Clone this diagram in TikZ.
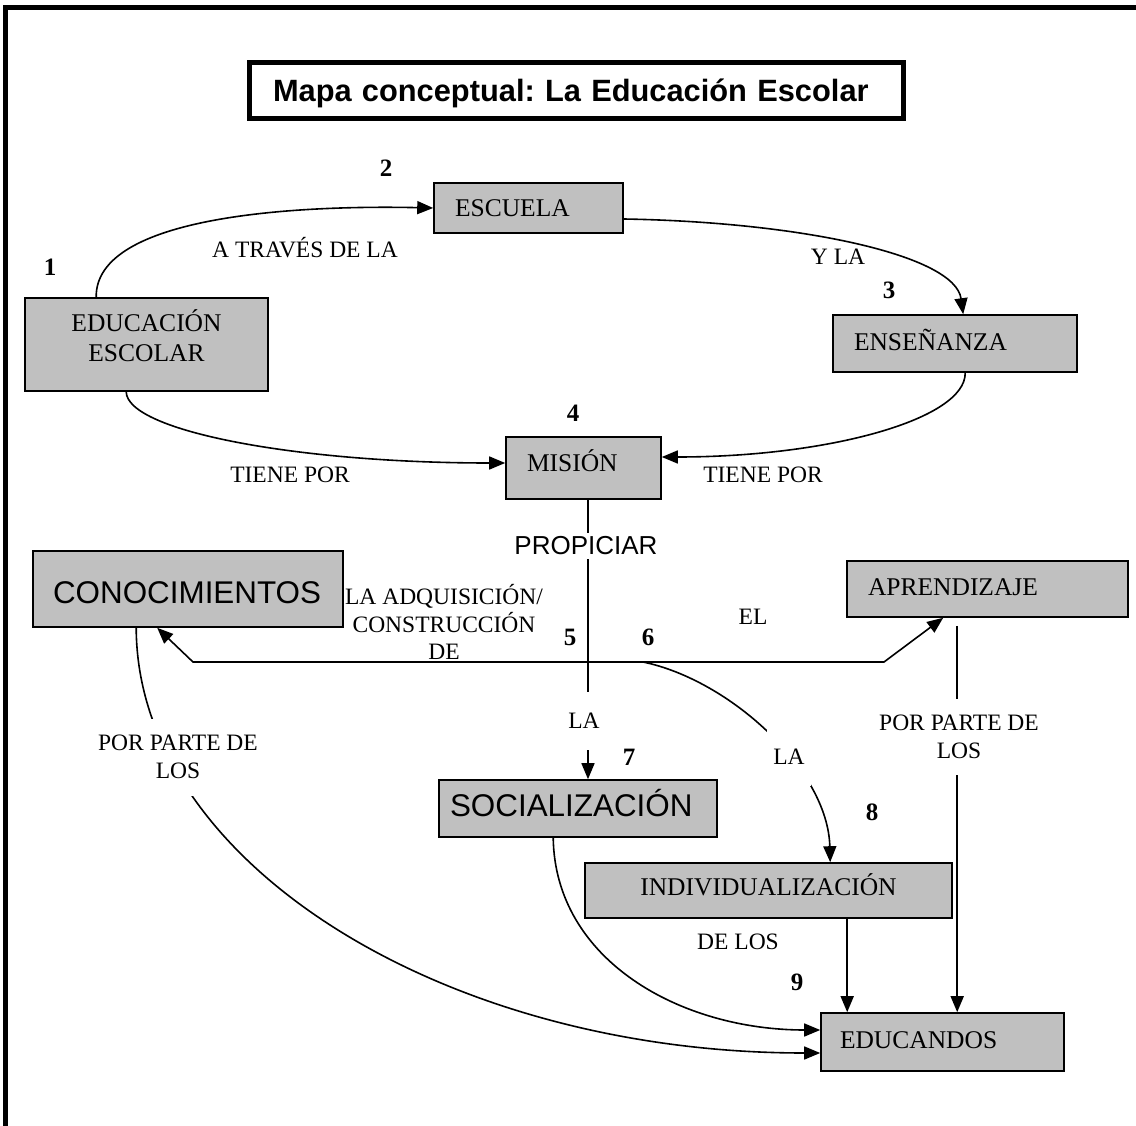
\documentclass[tikz,border=0pt]{standalone}
\usepackage{fontspec}
\setmainfont{Liberation Serif}
\newfontfamily\arialf{Liberation Sans}
\usetikzlibrary{arrows.meta}
\definecolor{boxgray}{HTML}{C0C0C0}
\frenchspacing
\newcommand\boxfont{\fontsize{25.5}{30}\selectfont}
\newcommand\lblfont{\fontsize{23.5}{27.5}\selectfont}
\newcommand\numfont{\fontsize{25}{30}\selectfont\bfseries}
\newcommand\sansbig{\arialf\fontsize{31.4}{36}\selectfont}
\newcommand\sansmid{\arialf\fontsize{26}{30}\selectfont}
\newcommand\titlefont{\arialf\bfseries\fontsize{30.8}{36}\selectfont}
\begin{document}
\begin{tikzpicture}[x=1pt,y=-1pt,
  >={Triangle[length=16pt,width=13pt]},
  conn/.style={line width=1.6pt},
  arr/.style={conn,->},
  boxbase/.style={draw=black, fill=boxgray, line width=1.6pt, inner ysep=0pt, font=\boxfont},
  box/.style={boxbase, text height=17pt, text depth=2pt},
  lbox/.style n args={2}{box, align=left, inner xsep=#1, text width=#2},
  sbox/.style={font=\sansbig, text height=22.5pt, text depth=0pt},
  lbl/.style={font=\lblfont, align=center, inner sep=1pt},
  gap/.style={fill=white},
  num/.style={font=\numfont, inner sep=0pt}]

\path[use as bounding box] (0,0) rectangle (1136,1126);
\begin{scope}
  \clip (0,0) rectangle (1136,1126);
  \draw[line width=5pt, line join=miter] (5.5,1150) -- (5.5,7.5) -- (1160,7.5);
\end{scope}

% title
\node[draw, line width=5pt, minimum height=56pt, inner ysep=0pt, align=left,
      inner xsep=23.5pt, text width=607pt, font=\titlefont,
      text height=22pt, text depth=0pt] (title) at (576.5,90.5)
      {Mapa conceptual: La Educación Escolar};

% concept boxes
\node[boxbase, minimum width=243pt, minimum height=93pt, inner xsep=0pt, align=center]
  (edu) at (146.5,344.5) {EDUCACIÓN\\ESCOLAR\\[-12pt]\mbox{}};
\node[lbox={21pt}{147pt}, minimum height=50pt, text depth=0pt] (esc) at (528.5,208) {ESCUELA};
\node[lbox={21pt}{202pt}, minimum height=57pt, text depth=3pt] (ens) at (955,343.5) {ENSEÑANZA};
\node[lbox={21pt}{113pt}, minimum height=62pt, text depth=10pt] (mis) at (583.5,468) {MISIÓN};
\node[lbox={20pt}{270pt}, sbox, minimum height=76pt, text height=28.5pt] (con) at (188,589) {CONOCIMIENTOS};
\node[lbox={21pt}{239pt}, minimum height=56pt, text depth=4pt] (apr) at (987.5,589) {APRENDIZAJE};
\node[lbox={11pt}{256pt}, sbox, minimum height=57pt, text depth=7pt] (soc) at (578,808.5) {SOCIALIZACIÓN};
\node[box, minimum width=367pt, minimum height=55pt, inner xsep=0pt, text depth=7pt] (ind) at (768.5,890.5) {INDIVIDUALIZACIÓN};
\node[lbox={19pt}{205pt}, minimum height=58pt, text depth=4pt] (educ) at (942.5,1042) {EDUCANDOS};

% junction points
\coordinate (hl) at (193,662);
\coordinate (hr) at (884,662);
\coordinate (n6) at (643,662);

% connectors
\draw[arr] ([xshift=72pt]edu.north west) .. controls (95,215) and (300,205) .. (esc.west);
\draw[arr] ([yshift=-11pt]esc.east) .. controls (800,222) and (955,255) .. ([xshift=131pt]ens.north west);
\draw[arr] ([xshift=102pt]edu.south west) .. controls (127,431) and (297,463) .. ([yshift=5pt]mis.west);
\draw[arr] ([xshift=133pt]ens.south west) .. controls (966,419) and (829,457) .. ([yshift=11pt]mis.east);
\draw[arr] ([xshift=4.5pt]mis.south) -- ([xshift=10pt]soc.north);
\draw[conn,<->] ([xshift=125pt]con.south west) -- (hl) -- (hr) -- ([xshift=97pt]apr.south west);
\draw[arr] (n6) .. controls (730,680) and (828,770) .. ([xshift=246pt]ind.north west);
\draw[arr, shorten <=8pt] ([xshift=111pt]apr.south west) -- ([xshift=137pt]educ.north west);
\draw[arr] ([xshift=263pt]ind.south west) -- ([xshift=27pt]educ.north west);
\draw[arr] ([xshift=115pt]soc.south west) .. controls (555,960) and (680,1030) .. ([yshift=12pt]educ.west);
\draw[arr] ([xshift=104pt]con.south west) .. controls (137,862) and (443,1053) .. ([yshift=-11pt]educ.west);

% link labels
\node[lbl] (lATR) at (305,248) {A TRAVÉS DE LA};
\node[lbl] (lYLA) at (838,257) {Y LA};
\node[lbl] (lTP1) at (290,475) {TIENE POR};
\node[lbl] (lTP2) at (763,475) {TIENE POR};
\node[lbl, gap, font=\sansmid, inner ysep=4pt] (lPROP) at (586,546) {PROPICIAR};
\node[lbl] (lADQ) at (444,622) {LA ADQUISICIÓN/\\CONSTRUCCIÓN\\DE};
\node[lbl] (lEL) at (753,617) {EL};
\node[lbl, gap, minimum height=58pt, minimum width=40pt] (lLA1) at (584,721) {LA};
\node[lbl, gap, minimum height=58pt, minimum width=44pt] (lLA2) at (789,757) {LA};
\node[lbl, gap, minimum height=77pt] (lPP1) at (178,757) {POR PARTE DE\\LOS};
\node[lbl, gap, minimum height=76pt] (lPP2) at (959,737) {POR PARTE DE\\LOS};
\node[lbl] (lDL) at (738,942) {DE LOS};

% numbers
\node[num] (k1) at (50,267) {1};
\node[num] (k2) at (386,168) {2};
\node[num] (k3) at (889,290) {3};
\node[num] (k4) at (573,413) {4};
\node[num] (k5) at (570,637) {5};
\node[num] (k6) at (648,637) {6};
\node[num] (k7) at (629,757) {7};
\node[num] (k8) at (872,812) {8};
\node[num] (k9) at (797,982) {9};
\end{tikzpicture}
\end{document}
